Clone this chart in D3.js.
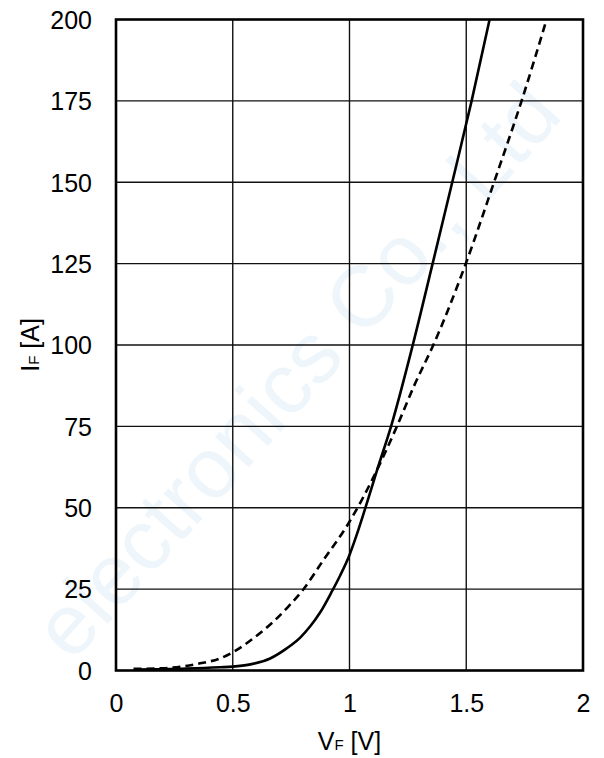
<!DOCTYPE html>
<html>
<head>
<meta charset="utf-8">
<script src="https://cdn.jsdelivr.net/npm/d3@7"></script>
<style>
  html, body { margin: 0; padding: 0; background: #fff; }
  svg { display: block; font-family: "Liberation Sans", Arial, sans-serif; }
</style>
</head>
<body>
<svg id="chart" width="604" height="758"></svg>
<script>
// ---- data ----
const xTicks = [0, 0.5, 1, 1.5, 2];
const xTickLabels = ["0", "0.5", "1", "1.5", "2"];
const yTicks = [0, 25, 50, 75, 100, 125, 150, 175, 200];
const yTickLabels = ["0", "25", "50", "75", "100", "125", "150", "175", "200"];

// solid curve: VF [V], IF [A]
const solidVF = [0.08, 0.3, 0.446, 0.5, 0.57, 0.66, 0.731, 0.79, 0.831, 0.874, 0.924, 0.96, 1.0, 1.03, 1.066, 1.12, 1.178, 1.271, 1.356, 1.44, 1.523, 1.6];
const solidIF = [0.3, 0.6, 1.0, 1.2, 1.8, 3.7, 6.8, 10.2, 13.5, 17.8, 24.2, 29.2, 35.5, 41.5, 49.5, 62.0, 75.0, 100.0, 125.0, 150.0, 175.0, 200.0];

// dashed curve: VF [V], IF [A]
const dashedVF = [0.075, 0.2, 0.29, 0.36, 0.445, 0.5, 0.588, 0.674, 0.74, 0.802, 0.888, 1.0, 1.1, 1.2, 1.28, 1.359, 1.498, 1.619, 1.737, 1.844];
const dashedIF = [0.5, 0.7, 1.3, 2.2, 3.7, 5.6, 9.9, 15.0, 19.8, 24.9, 33.9, 45.7, 59.0, 74.5, 88.0, 100.0, 125.0, 150.0, 175.0, 200.0];

const watermarkText = "electronics Co., Ltd";

// ---- layout ----
const svg = d3.select("#chart");
const pLeft = 116, pRight = 583, pTop = 19.5, pBottom = 670.5;
const x = d3.scaleLinear().domain([0, 2]).range([pLeft, pRight]);
const y = d3.scaleLinear().domain([0, 200]).range([pBottom, pTop]);

// watermark (faint)
svg.append("text")
  .attr("transform", "translate(296,370) rotate(-48)")
  .attr("text-anchor", "middle")
  .attr("dominant-baseline", "central")
  .attr("font-size", 86)
  .attr("fill", "#eef6fb")
  .text(watermarkText);

// grid
const grid = svg.append("g");
grid.selectAll("line.v").data(xTicks.slice(1, -1)).join("line")
  .attr("class", "v")
  .attr("x1", d => x(d)).attr("x2", d => x(d))
  .attr("y1", pTop).attr("y2", pBottom)
  .attr("stroke", "#111").attr("stroke-width", 1.4);
grid.selectAll("line.h").data(yTicks.slice(1, -1)).join("line")
  .attr("class", "h")
  .attr("y1", d => y(d)).attr("y2", d => y(d))
  .attr("x1", pLeft).attr("x2", pRight)
  .attr("stroke", "#111").attr("stroke-width", 1.4);

// curves
const line = d3.line().x(d => x(d[0])).y(d => y(d[1])).curve(d3.curveMonotoneX);
const solidData = solidVF.map((v, i) => [v, solidIF[i]]);
const dashedData = dashedVF.map((v, i) => [v, dashedIF[i]]);

svg.append("path").datum(dashedData)
  .attr("d", line).attr("fill", "none")
  .attr("stroke", "#000").attr("stroke-width", 2.6)
  .attr("stroke-dasharray", "8,5");
svg.append("path").datum(solidData)
  .attr("d", line).attr("fill", "none")
  .attr("stroke", "#000").attr("stroke-width", 2.6);

// frame
svg.append("rect")
  .attr("x", pLeft).attr("y", pTop)
  .attr("width", pRight - pLeft).attr("height", pBottom - pTop)
  .attr("fill", "none").attr("stroke", "#000").attr("stroke-width", 2.6);

// axes (labels only, ticks hidden)
const xAxis = d3.axisBottom(x).tickValues(xTicks)
  .tickFormat((d, i) => xTickLabels[i]).tickSize(0).tickPadding(0);
const gx = svg.append("g").attr("transform", `translate(0,${pBottom})`).call(xAxis);
gx.select(".domain").remove();
gx.selectAll("text").attr("font-size", 25).attr("font-family", "Liberation Sans, Arial, sans-serif")
  .attr("fill", "#000").attr("dy", null).attr("y", 41);

const yAxis = d3.axisLeft(y).tickValues(yTicks)
  .tickFormat((d, i) => yTickLabels[i]).tickSize(0).tickPadding(24);
const gy = svg.append("g").attr("transform", `translate(${pLeft},0)`).call(yAxis);
gy.select(".domain").remove();
gy.selectAll("text").attr("font-size", 25).attr("font-family", "Liberation Sans, Arial, sans-serif")
  .attr("fill", "#000").attr("dy", "0.35em");

// axis titles
const xt = svg.append("text")
  .attr("x", (pLeft + pRight) / 2).attr("y", 750)
  .attr("text-anchor", "middle").attr("font-size", 25).attr("fill", "#000");
xt.append("tspan").text("V");
xt.append("tspan").attr("font-size", 15).text("F");
xt.append("tspan").text(" [V]");

const yt = svg.append("text")
  .attr("transform", `translate(38.5,${(pTop + pBottom) / 2}) rotate(-90)`)
  .attr("text-anchor", "middle").attr("font-size", 25).attr("fill", "#000");
yt.append("tspan").text("I");
yt.append("tspan").attr("font-size", 15).text("F");
yt.append("tspan").text(" [A]");
</script>
</body>
</html>
